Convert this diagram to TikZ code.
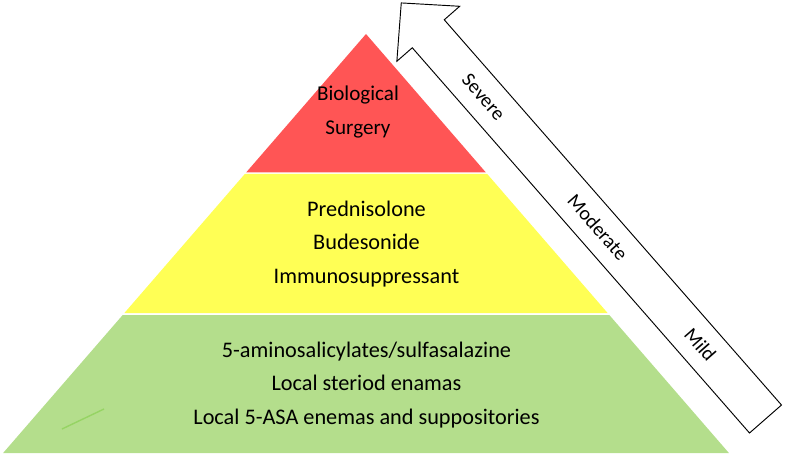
\documentclass[tikz,border=0pt]{standalone}
\usepackage{fontspec}
\setmainfont{Carlito}
\definecolor{tierred}{RGB}{255,85,85}
\definecolor{tieryellow}{RGB}{255,255,85}
\definecolor{tiergreen}{RGB}{180,222,140}
\definecolor{tierstroke}{RGB}{150,212,100}
\begin{document}
\begin{tikzpicture}[
    x=0.03cm, y=-0.03cm,
    tiertext/.style={align=center, font=\fontsize{19}{28.5}\selectfont, inner sep=0pt},
    sevtext/.style={font=\fontsize{17}{20}\selectfont, rotate=-48.8, inner sep=0pt},
    bigarrow/.style={draw=black, fill=white, line width=0.8pt, line join=miter}
]
\useasboundingbox (0,0) rectangle (787,456);

% Pyramid layers
\fill[tierred]    (366,34) -- (485.9,172.5) -- (246.1,172.5) -- cycle;
\fill[tieryellow] (244.8,174) -- (487.2,174) -- (607.6,313) -- (124.4,313) -- cycle;
\fill[tiergreen]  (122.7,315) -- (609.3,315) -- (728.9,453) -- (3.1,453) -- cycle;
\draw[tierstroke, line width=1.2pt] (62,429) -- (104,409);

% Layer texts
\node[tiertext, font=\fontsize{18}{29.5}\selectfont] (top) at (358,112) {Biological\\Surgery};
\node[tiertext] (middle) at (366.5,244) {Prednisolone\\Budesonide\\Immunosuppressant};
\node[tiertext] (bottom) at (366.5,385) {5-aminosalicylates/sulfasalazine\\Local steriod enamas\\Local 5-ASA enemas and suppositories};

% Severity arrow
\begin{scope}[shift={(765.5,419)}, rotate=131.2]
\draw[bigarrow] (0,-21.25) -- (512,-21.25) -- (512,-41.75) -- (553,0)
    -- (512,41.75) -- (512,21.25) -- (0,21.25) -- cycle;
\node[sevtext] (severe)   at (428,0)   {Severe};
\node[sevtext] (moderate) at (254.5,0) {Moderate};
\node[sevtext] (mild)     at (99,0)    {Mild};
\end{scope}

\end{tikzpicture}
\end{document}
